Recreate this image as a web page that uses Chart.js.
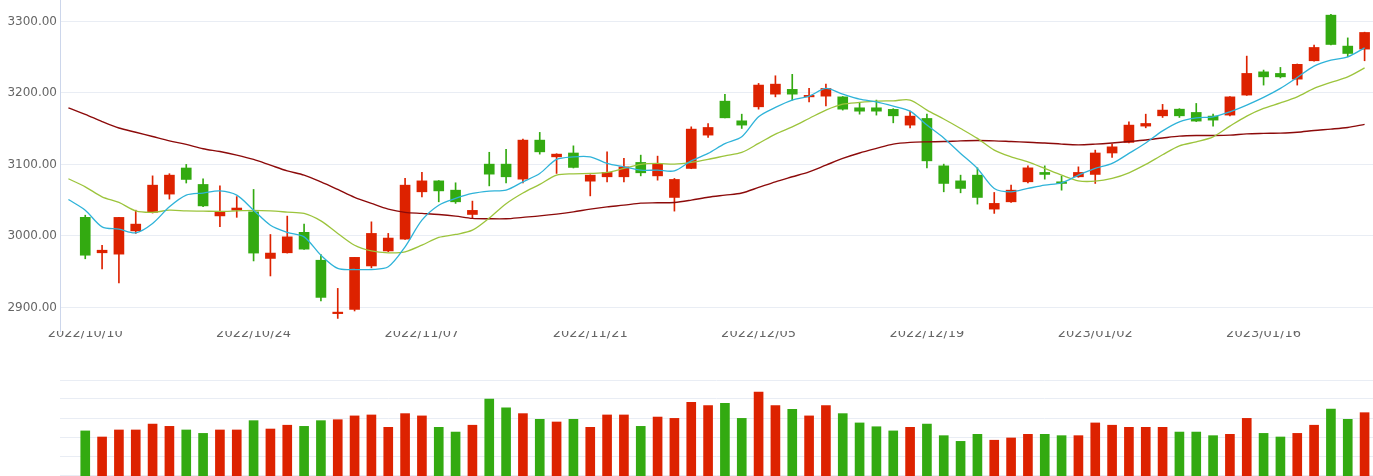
<!DOCTYPE html>
<html>
<head>
<meta charset="utf-8">
<script src="https://cdn.jsdelivr.net/npm/chart.js@4/dist/chart.umd.min.js"></script>
<style>
html, body { margin: 0; padding: 0; background: #fff; width: 1373px; height: 476px; overflow: hidden; }
#kline { position: absolute; left: 0; top: 0; }
#vol { position: absolute; left: 0; top: 370px; }
</style>
</head>
<body>
<canvas id="kline" width="1373" height="350"></canvas>
<canvas id="vol" width="1373" height="124"></canvas>
<script>
// trading days shown on the category axis (first one has only MA values)
var dates = [
  '2022/10/07',
  '2022/10/10', '2022/10/11', '2022/10/12', '2022/10/13', '2022/10/14',
  '2022/10/17', '2022/10/18', '2022/10/19', '2022/10/20', '2022/10/21',
  '2022/10/24', '2022/10/25', '2022/10/26', '2022/10/27', '2022/10/28',
  '2022/10/31', '2022/11/01', '2022/11/02', '2022/11/03', '2022/11/04',
  '2022/11/07', '2022/11/08', '2022/11/09', '2022/11/10', '2022/11/11',
  '2022/11/14', '2022/11/15', '2022/11/16', '2022/11/17', '2022/11/18',
  '2022/11/21', '2022/11/22', '2022/11/23', '2022/11/24', '2022/11/25',
  '2022/11/28', '2022/11/29', '2022/11/30', '2022/12/01', '2022/12/02',
  '2022/12/05', '2022/12/06', '2022/12/07', '2022/12/08', '2022/12/09',
  '2022/12/12', '2022/12/13', '2022/12/14', '2022/12/15', '2022/12/16',
  '2022/12/19', '2022/12/20', '2022/12/21', '2022/12/22', '2022/12/23',
  '2022/12/26', '2022/12/27', '2022/12/28', '2022/12/29', '2022/12/30',
  '2023/01/02', '2023/01/03', '2023/01/04', '2023/01/05', '2023/01/06',
  '2023/01/09', '2023/01/10', '2023/01/11', '2023/01/12', '2023/01/13',
  '2023/01/16', '2023/01/17', '2023/01/18', '2023/01/19', '2023/01/20',
  '2023/01/23', '2023/01/24'
];

var open = [null,
  3026, 2976.4, 2974.5, 3007, 3033, 3058.5, 3095, 3072, 3028, 3036,
  3033.7, 2968.5, 2976.4, 3005, 2966, 2891.3, 2897.2, 2958, 2979, 2995.5,
  3061.7, 3077, 3064, 3030, 3100.4, 3100.4, 3079.4, 3134, 3110.6, 3116,
  3076.6, 3082.7, 3082.7, 3102.8, 3084, 3053.8, 3094.4, 3141, 3188.5, 3161,
  3180.6, 3198.3, 3205, 3194.5, 3195.5, 3194.5, 3179.2, 3179.2, 3177, 3155,
  3164.3, 3098, 3077, 3085, 3037.5, 3047.7, 3075.7, 3088.8, 3075.7, 3082.7,
  3086, 3116, 3130.8, 3153.6, 3168, 3177.3, 3172.7, 3167.6, 3169, 3197,
  3229.5, 3227.3, 3219.3, 3245, 3308.8, 3265.5, 3261.3
];
var high = [null,
  3029, 2987, 3026, 3036, 3084, 3087, 3100, 3080, 3070, 3055,
  3065, 3002, 3027.7, 3016.5, 2974, 2926.6, 2970, 3019.7, 3003.5, 3080.4,
  3088.8, 3077.5, 3074.3, 3048.7, 3117, 3121, 3135.4, 3144.8, 3115, 3126,
  3085.5, 3117.6, 3108.4, 3113, 3111.6, 3080.4, 3152.6, 3157.3, 3198, 3170.3,
  3213.3, 3224, 3226, 3206.3, 3212.3, 3195, 3186.7, 3190, 3178, 3174.5,
  3170.3, 3100.4, 3085, 3095.2, 3060.8, 3071, 3098, 3098, 3083.6, 3096.6,
  3120, 3128.4, 3159.6, 3170.3, 3184, 3178, 3185.3, 3170.3, 3195, 3251.5,
  3232, 3235.7, 3240.5, 3267, 3310, 3277, 3285
];
var low = [null,
  2968, 2954, 2934.4, 3003.5, 3032, 3051.5, 3074, 3041, 3013, 3026,
  2965, 2944, 2976, 2981, 2909, 2884.6, 2895, 2955.4, 2978, 2995,
  3054.7, 3047.7, 3045.5, 3024.5, 3070, 3074.3, 3074.3, 3114.4, 3087.4, 3095,
  3056, 3075.7, 3075.7, 3084, 3078, 3034.7, 3094, 3137.8, 3165, 3150.3,
  3177.3, 3194.5, 3190, 3187.5, 3182, 3176, 3170.3, 3169, 3158.2, 3151.2,
  3095.2, 3061.7, 3060.3, 3044.5, 3031.5, 3047, 3074.3, 3079.4, 3064, 3082,
  3073.4, 3109.8, 3130, 3151.2, 3165.7, 3165.7, 3160, 3153.6, 3168, 3196.5,
  3211, 3221, 3211, 3244.5, 3267, 3250.5, 3245
];
var close = [null,
  2973, 2980, 3025.9, 3016.5, 3071, 3085, 3079, 3042, 3034, 3039,
  2976, 2976, 2998.7, 2981.5, 2914, 2892, 2970, 3003.5, 2997, 3071,
  3077, 3063, 3047.7, 3035.7, 3086.4, 3082.7, 3134, 3117.6, 3114.4, 3095.8,
  3085, 3088.8, 3096.6, 3088.3, 3100.4, 3079, 3149.4, 3151.7, 3165.2, 3155,
  3211, 3212.3, 3198.3, 3196.5, 3206.3, 3177.3, 3174.5, 3174.5, 3168, 3167.6,
  3105, 3073.4, 3066.4, 3053.8, 3045.5, 3064, 3095.2, 3086, 3073.4, 3088.8,
  3116, 3124.6, 3155, 3157.3, 3176, 3168, 3160.6, 3162, 3194.5, 3227.3,
  3222.5, 3222.5, 3240, 3263.6, 3267.8, 3255.2, 3284.6
];

var ma5 = [
  3051, 3036, 3012.7, 3009.5, 3004.3, 3017.5, 3040.7, 3057, 3060, 3063,
  3057, 3036, 3015, 3005, 2998.7, 2973, 2954.5, 2953, 2953, 2956.8,
  2984.8, 3022, 3043, 3052.4, 3059.4, 3062.7, 3064, 3075.7, 3087.4, 3107,
  3110.6, 3110.6, 3101.4, 3096.6, 3092, 3092, 3091, 3105, 3115.4, 3129,
  3138.6, 3166.6, 3179.7, 3190, 3195.5, 3206.3, 3198.3, 3191.3, 3187.5, 3181.5,
  3174.5, 3155, 3137, 3115.4, 3094.4, 3066.4, 3061.7, 3066.4, 3071, 3074.3,
  3085, 3094.4, 3101.4, 3115.4, 3130, 3147, 3159.6, 3165.2, 3166.6, 3173.6,
  3183, 3193.7, 3206.3, 3221.7, 3237.5, 3245.9, 3250.5, 3263
];
var ma10 = [
  3080, 3068.7, 3054.7, 3046.8, 3035, 3033, 3036, 3035, 3034.7, 3034.3,
  3035, 3035.7, 3035, 3033.3, 3031.5, 3021, 3003.5, 2987, 2979, 2976.4,
  2977.8, 2987, 2998, 3002, 3008, 3025, 3045, 3060, 3072, 3085,
  3086.9, 3087.4, 3088.8, 3094.4, 3100, 3101.4, 3100.4, 3102.8, 3107, 3112,
  3116.8, 3129.4, 3142.4, 3152.6, 3164.3, 3176, 3184.3, 3186.7, 3188.5, 3189,
  3190, 3176, 3163.5, 3150.3, 3136.4, 3120, 3110.6, 3103.6, 3094.4, 3085,
  3077, 3076.6, 3080.4, 3088.3, 3100, 3113.5, 3126, 3131.6, 3138.6, 3153.6,
  3167.6, 3178.3, 3186, 3194.5, 3206.3, 3214.7, 3222.5, 3235
];
var ma60 = [
  3179, 3170, 3160, 3151, 3145, 3139, 3133, 3128, 3122, 3118,
  3113, 3107, 3099, 3091, 3085, 3075.6, 3065, 3054, 3045.5, 3037.5,
  3033, 3031.5, 3030, 3027.7, 3024.5, 3024, 3024, 3026, 3028, 3030.5,
  3033.7, 3037.5, 3040.7, 3043, 3045.9, 3046.3, 3046.8, 3050, 3054, 3057,
  3060, 3067.8, 3075.7, 3082.7, 3089.6, 3099, 3108.4, 3116, 3122.4, 3128.4,
  3130.8, 3131.6, 3132, 3133, 3133.5, 3133, 3132, 3131, 3130, 3128.4,
  3127.4, 3128.4, 3130, 3132, 3134.2, 3137, 3139.6, 3140.5, 3140.5, 3141,
  3142.8, 3143.4, 3143.8, 3145, 3147.5, 3149.4, 3151.7, 3156
];

var volume = [null,
  332, 300, 337, 337, 368, 356, 337, 319, 337, 337,
  386, 342, 362, 356, 386, 391, 411, 416, 351, 423,
  411, 351, 326, 362, 500, 453, 423, 393, 379, 393,
  351, 416, 416, 356, 405, 398, 483, 465, 477, 398,
  537, 465, 446, 411, 465, 423, 374, 354, 332, 351,
  368, 307, 277, 314, 283, 295, 314, 314, 307, 307,
  374, 362, 351, 351, 351, 326, 326, 307, 314, 398,
  319, 300, 319, 362, 447, 393, 428
];

var UP = '#dd2200';
var DOWN = '#33aa11';

function candleColor(i) {
  if (open[i] === null) return UP;
  return close[i] >= open[i] ? UP : DOWN;
}

function pairs(a, b) {
  var out = [];
  for (var i = 0; i < a.length; i++) {
    out.push(a[i] === null ? null : [a[i], b[i]]);
  }
  return out;
}

var colors = dates.map(function(d, i) { return candleColor(i); });

// fixed axis widths so both panels line up
function fixY(scale) {
  scale.width = 60;
  scale.paddingTop = 0;
  scale.paddingBottom = 0;
}

new Chart(document.getElementById('kline'), {
  type: 'bar',
  data: {
    labels: dates,
    datasets: [
      { type: 'line', data: ma5, borderColor: '#2fb3d9', borderWidth: 1.3, pointRadius: 0, tension: 0.3, order: 0 },
      { type: 'line', data: ma10, borderColor: '#9cc43c', borderWidth: 1.3, pointRadius: 0, tension: 0.3, order: 0 },
      { type: 'line', data: ma60, borderColor: '#8c0a0a', borderWidth: 1.4, pointRadius: 0, tension: 0.3, order: 0 },
      { data: pairs(open, close), backgroundColor: colors, barThickness: 10, minBarLength: 1.5, grouped: false, order: 1 },
      { data: pairs(low, high), backgroundColor: colors, barThickness: 1, grouped: false, order: 2 }
    ]
  },
  options: {
    responsive: false,
    devicePixelRatio: 1,
    animation: false,
    events: [],
    layout: { padding: 0 },
    plugins: { legend: { display: false }, tooltip: { enabled: false } },
    scales: {
      x: {
        offset: true,
        grid: { display: false, drawTicks: false },
        border: { display: false },
        ticks: {
          autoSkip: false,
          maxRotation: 0,
          padding: -5,
          color: '#666',
          font: { family: 'DejaVu Sans', size: 13 },
          callback: function(v, i) { return (i - 1) % 10 === 0 ? dates[i] : ''; }
        },
        afterFit: function(scale) {
          scale.height = 19;
          scale.paddingLeft = 0;
          scale.paddingRight = 0;
        }
      },
      y: {
        min: 2867,
        max: 3330,
        grid: { color: '#e9edf4', drawTicks: false },
        border: { color: '#ccd6eb' },
        ticks: {
          padding: 3,
          color: '#666',
          font: { family: 'DejaVu Sans', size: 12 },
          callback: function(v) { return v.toFixed(2); }
        },
        afterBuildTicks: function(scale) {
          scale.ticks = scale.ticks.filter(function(t) { return t.value % 100 === 0; });
        },
        afterFit: fixY
      }
    }
  }
});

new Chart(document.getElementById('vol'), {
  type: 'bar',
  data: {
    labels: dates,
    datasets: [
      { data: volume, backgroundColor: colors, barThickness: 9 }
    ]
  },
  options: {
    responsive: false,
    devicePixelRatio: 1,
    animation: false,
    events: [],
    layout: { padding: { top: 10 } },
    plugins: { legend: { display: false }, tooltip: { enabled: false } },
    scales: {
      x: { display: false, offset: true },
      y: {
        min: 0,
        max: 600,
        grid: { color: '#e9edf4', drawTicks: false },
        border: { display: false },
        ticks: { display: false, stepSize: 100 },
        afterFit: fixY
      }
    }
  }
});
</script>
</body>
</html>
